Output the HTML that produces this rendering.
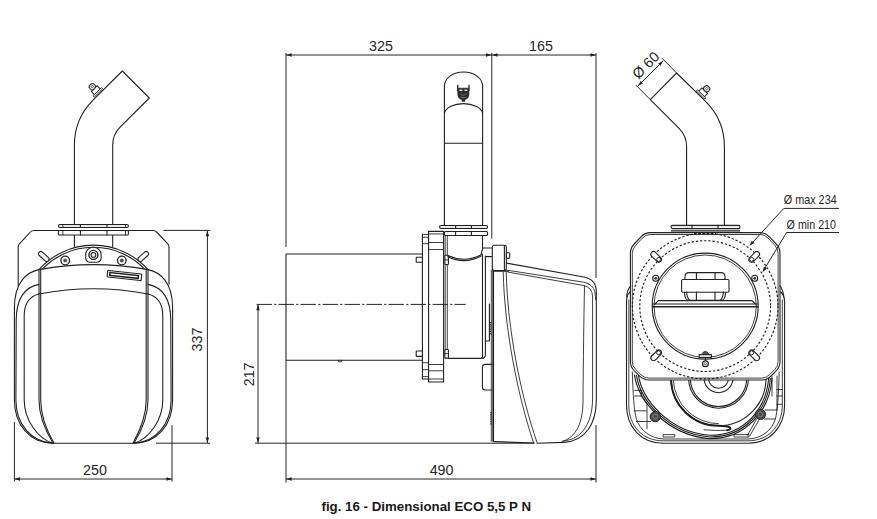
<!DOCTYPE html>
<html>
<head>
<meta charset="utf-8">
<title>fig. 16 - Dimensional ECO 5,5 P N</title>
<style>
  html, body { margin: 0; padding: 0; background: #ffffff; }
  body { width: 877px; height: 519px; overflow: hidden; font-family: "Liberation Sans", sans-serif; }
  svg { display: block; }
  .ln { fill: none; stroke: #222; stroke-width: 1.1; stroke-linecap: round; stroke-linejoin: round; }
  .lt { fill: none; stroke: #1e1e1e; stroke-width: 0.85; stroke-linecap: round; stroke-linejoin: round; }
  .th { fill: none; stroke: #222; stroke-width: 1.5; stroke-linecap: round; stroke-linejoin: round; }
  .wf { fill: #fff; stroke: #222; stroke-width: 1.1; stroke-linejoin: round; }
  .dm { fill: none; stroke: #262626; stroke-width: 1.0; }
  .ds { fill: none; stroke: #222; stroke-width: 1.15; stroke-dasharray: 2.3 1.9; }
  .ar { fill: #222; stroke: none; }
  text { font-family: "Liberation Sans", sans-serif; fill: #262626; }
  .dt { font-size: 14.3px; }
  .cap { font-size: 12.5px; font-weight: bold; fill: #1a1a1a; }
</style>
</head>
<body>
<svg width="877" height="519" viewBox="0 0 877 519">
<rect x="0" y="0" width="877" height="519" fill="#ffffff"/>

<!-- ================= LEFT VIEW ================= -->
<g id="left-view">
  <!-- bracket plate -->
  <path class="ln" d="M18.2,286 V247 Q18.2,245 19.6,243.6 L30.4,232 Q31.8,230.5 34,230.5 H153 Q155.2,230.5 156.6,232 L167.6,243.6 Q169,245 169,247 V284"/>
  <!-- pipe -->
  <path class="wf" d="M74.4,224.5 V145.1 A63.6,63.6 0 0 1 93.03,100.13 L122.3,71 L149.3,98 L120.11,127.21 A25.3,25.3 0 0 0 112.7,145.1 V224.5"/>
  <!-- nipple -->
  <g transform="translate(98.5 92.9) rotate(-45)">
    <rect x="-4" y="-6" width="8" height="4.6" fill="#fff" stroke="#222" stroke-width="1"/>
    <rect x="-5.9" y="-1.6" width="11.8" height="1.6" fill="#fff" stroke="#1c1c1c" stroke-width="0.9"/>
    <rect x="-3" y="-11.6" width="6" height="5.6" rx="2.4" fill="#fff" stroke="#222" stroke-width="1"/>
    <circle cx="0" cy="-8.9" r="1.2" fill="none" stroke="#333" stroke-width="0.7"/>
  </g>
  <!-- pipe below flange -->
  <path class="ln" d="M74.4,235.2 V247 M112.7,235.2 V246.5"/>
  <!-- flanges -->
  <rect class="wf" x="58.4" y="224.5" width="70" height="3" rx="1.5" style="fill:#e9e9e9"/>
  <rect class="wf" x="58.4" y="230.5" width="70" height="4.5" rx="1.1"/>
  <path class="ln" d="M80.4,224.5 V227.5 M107,224.5 V227.5 M80.4,230.5 V235 M107,230.5 V235"/><path class="lt" d="M62.8,224.5 V227.5 M125.5,224.5 V227.5 M62.8,230.5 V235 M125.5,230.5 V235"/>
  <!-- tabs -->
  <!-- round plate arcs -->
  <path class="wf" d="M39,269.6 A73,73 0 0 1 148,269.6 Z"/>
  <path class="ln" d="M41.6,269.9 A70.9,70.9 0 0 1 145.4,269.9"/>
  <g transform="rotate(42 43.75 256.45)"><rect class="wf" x="37.5" y="254.15" width="12.5" height="4.6" rx="2.3"/></g>
  <g transform="rotate(-42 143.25 256.45)"><rect class="wf" x="137" y="254.15" width="12.5" height="4.6" rx="2.3"/></g>
  <!-- bolts -->
  <path class="wf" d="M85.7,254.6 A7.7,7.4 0 0 1 101.1,254.6 V257.4 Q101.1,262.2 96.4,262.2 H90.4 Q85.7,262.2 85.7,257.4 Z"/>
  <circle cx="93.4" cy="254.9" r="4.5" fill="#fff" stroke="#222" stroke-width="1.4"/>
  <circle class="ln" cx="93.4" cy="254.9" r="2.4"/>
  <circle cx="65.2" cy="260.5" r="4.3" fill="#fff" stroke="#222" stroke-width="1.3"/>
  <circle cx="65.2" cy="260.5" r="2" fill="#555"/>
  
  <circle cx="121.8" cy="260.5" r="4.3" fill="#fff" stroke="#222" stroke-width="1.3"/>
  <circle cx="121.8" cy="260.5" r="2" fill="#555"/>
  

  <!-- cover body (white fill to hide things behind) -->
  <path class="wf" d="M39,269.6 Q93.5,259.6 148,269.6 C160,272 172.6,282 172.6,308 V400 C172.6,425 157,443.2 134,443.2 H53 C30,443.2 14.4,425 14.4,400 V308 C14.4,282 27,272 39,269.6 Z"/>
  <!-- second outer lines -->
  <path class="ln" d="M39,284.4 C29,286.4 16.4,294 16.2,320 C15.9,345 15.9,370 15.9,400 C15.9,424 31,442 53,443.2"/>
  <path class="ln" d="M148,284.4 C158,286.4 170.6,294 170.8,320 C171.1,345 171.1,370 171.1,400 C171.1,424 156,442 134,443.2"/>
  <!-- inner frame -->
  <path class="ln" d="M39,294 C31,296 24.2,302 24.2,316 V400 C24.2,420 38,439 53,443.2"/>
  <path class="ln" d="M148,294 C156,296 162.8,302 162.8,316 V400 C162.8,420 149,439 134,443.2"/>
  <!-- panel -->
  <path class="ln" d="M39,269.6 V400 C39,415 45,430 53,443.2"/>
  <path class="ln" d="M40.7,270 V400 C40.7,415 46.4,430 54,443.2"/>
  <path class="ln" d="M148,269.6 V400 C148,415 142,430 134,443.2"/>
  <path class="ln" d="M146.2,270 V400 C146.2,415 140.4,430 133,443.2"/>
  <!-- arch -->
  <path class="ln" d="M39,294 Q93.5,283.6 148,294"/>
  <!-- label slot -->
  <g transform="rotate(6.2 107.8 270.4)">
    <rect class="wf" x="107.8" y="270.4" width="34.2" height="6.6" rx="0.8"/>
    <rect x="110.2" y="272.3" width="28.6" height="2.8" style="fill:#fff;stroke:#1c1c1c;stroke-width:1.5"/>
  </g>
</g>

<!-- left view dimensions -->
<g id="left-dims">
  <path class="dm" d="M14.4,422 V481.5 M172,425 V481.5 M14.4,479 H172"/>
  <path class="ar" d="M14.4,479 l5.6,-1.7 v3.4 Z M172,479 l-5.6,-1.7 v3.4 Z"/>
  <text class="dt" x="95" y="474.6" text-anchor="middle">250</text>

  <path class="dm" d="M163.4,230.4 H210.4 M156,443.2 H210 M207.4,230.4 V443"/>
  <path class="ar" d="M207.4,230.6 l-1.7,5.6 h3.4 Z M207.4,443 l-1.7,-5.6 h3.4 Z"/>
  <text class="dt" transform="translate(201.6 339.6) rotate(-90)" text-anchor="middle">337</text>
</g>

<!-- ================= SIDE VIEW ================= -->
<g id="side-view">
  <!-- tube -->
  <path class="ln" d="M422.4,254 H286 V360.2 H422.4"/>
  <path class="lt" d="M338.6,360.2 V361.8 H341.4 V360.2"/>
  <!-- pipe -->
  <path class="wf" d="M444.4,225 V86 A19.1,14 0 0 1 482.6,86 V225"/>
  <path class="ln" d="M444.4,113 A19.3,11 0 0 1 482.6,113"/>
  <path class="ln" d="M444.4,143.2 H482.6"/>
  <!-- nipple (front) -->
  <g>
    <path d="M457.7,84.8 V91 M469,84.8 V91" stroke="#222" stroke-width="1.3" fill="none"/>
    <path d="M457.7,88.3 H469" stroke="#222" stroke-width="1" fill="none"/>
    <path d="M457.4,88.6 H469.3 V94.6 A5.95,5.4 0 0 1 457.4,94.6 Z" fill="#2e2e2e"/>
    <rect x="459.4" y="89.6" width="2.9" height="1.3" fill="#e8e8e8"/>
    <rect x="464.4" y="89.6" width="2.9" height="1.3" fill="#e8e8e8"/>
    <path d="M460.4,94.2 Q463.3,96.6 466.3,94.2" stroke="#777" stroke-width="0.8" fill="none"/>
    <path d="M461,97.6 H465.8" stroke="#888" stroke-width="0.7" fill="none"/>
    <rect x="461.6" y="99.2" width="3.6" height="2.6" rx="0.8" fill="#2a2a2a"/>
  </g>
  <!-- flanges on pipe -->
  <rect class="wf" x="439.6" y="225.5" width="48" height="3" rx="1.5" style="fill:#e9e9e9"/>
  <rect class="wf" x="444.4" y="231.5" width="43.2" height="4" rx="1.1"/>
  <path class="ln" d="M455.6,225.5 V228.5 M471.4,225.5 V228.5 M455.6,231.5 V235.5 M471.4,231.5 V235.5"/>

  <!-- flange plate -->
  <path class="ln" d="M422.4,234.4 V379 H428.6 M428.6,231.4 V382 H443.6 V231.4 H428.6"/>
  <path class="lt" d="M422.4,234.4 H428.6 M422.4,237.3 H428.6 M422.4,243.7 H428.6 M428.6,233.9 H443.6 M428.6,242.5 H443.6 M428.6,249.5 H443.6"/>
  <path class="lt" d="M422.4,362.7 H428.6 M422.4,369.7 H428.6 M422.4,376.6 H428.6 M428.6,364.5 H443.6 M428.6,370.8 H443.6 M428.6,379 H443.6"/>
  <path class="lt" d="M445.2,235.4 V358.4 M447.3,235.4 V349"/>
  <!-- plate bolts -->
  <rect class="wf" x="416.2" y="257.2" width="6.2" height="5" rx="0.5"/>
  <rect class="wf" x="416.2" y="351" width="6.2" height="5.4" rx="0.5"/>
  <rect class="wf" x="444.9" y="255.3" width="3.5" height="9.2" rx="0.6"/><path class="lt" d="M444.9,259.9 H448.4"/>
  <rect class="wf" x="444.9" y="349.5" width="3.5" height="8.6" rx="0.6"/><path class="lt" d="M444.9,353.6 H448.4"/>
  <!-- saddle arc -->
  <path class="ln" d="M447.8,255.6 Q464.6,263.4 481.2,254.8"/>
  <path class="ln" d="M447.8,256.8 Q464.6,264.8 481.2,256"/>
  <!-- body -->
  <path class="ln" d="M482.5,235.4 V248 M482.5,254 V356 Q482.5,358.4 480,358.4 H448"/>
  <path class="ln" d="M485.4,256 V354 Q485.4,358.4 482,358.4"/>
  <path class="ln" d="M485.4,341 H489.4 V304"/>
  <!-- hinge bracket -->
  <path class="ln" d="M481,254.6 L482.8,248 H491.6 M485.6,256.6 H491.6"/>
  <!-- back plate -->
  <path class="lt" d="M491.3,270 V441.4"/><path d="M491,412 V425" fill="none" stroke="#333" stroke-width="1.6" stroke-dasharray="1 0.8"/><path d="M490.6,322 V335" fill="none" stroke="#333" stroke-width="1.4" stroke-dasharray="1 0.8"/>
  <path d="M493.2,271 V441.6" fill="none" stroke="#1c1c1c" stroke-width="1.7"/>
  <path class="ln" d="M492,364.4 H485.4 Q482.4,364.4 482.4,367.4 V387 Q482.4,390 485.4,390 H492"/>
  <!-- hinge block -->
  <rect class="wf" x="492.3" y="245.3" width="14" height="25.2" rx="2"/>
  <path class="ln" d="M504.4,246 V270"/>
  <path class="th" d="M493,271.1 H508.4"/>
  <rect class="wf" x="506.4" y="252.8" width="3.3" height="5.6" rx="0.8"/>
  <!-- cover -->
  <path class="ln" d="M506.6,263.1 L583.8,277 Q596.3,279.4 596.3,291.6 V400 C596.3,423 586,441 564,442.4 L537,443.2"/>
  <path class="lt" d="M508,270.3 L583.6,282.2 Q593,284 594.9,292 L595.8,300"/><path class="lt" d="M508,272.1 L583,285.4 Q592.4,287 592.6,297 V398 C592.6,420 584,439.6 563,441"/>
  
  <path class="lt" d="M584.5,285.8 C583.8,320 583.3,360 583,402 C582.6,422 577,437 562,441.6"/>
  <!-- inner contour (double) -->
  <path class="lt" d="M503.2,272 C504.6,330 517.6,395 533.6,443"/>
  <path class="lt" d="M506.2,272 C507.6,330 520.6,395 537,442.4"/>
  <!-- bottom -->
  <path class="ln" d="M493.6,441.6 L534.4,443"/>
</g>

<!-- side view dimensions -->
<g id="side-dims">
  <path class="dm" d="M286,53 V247 M286,360.2 V482.6 M491.8,53 V238.6 M596,53 V278 M596,425 V482.6"/>
  <path class="dm" d="M286,55 H596 M286,479 H596"/>
  <path class="ar" d="M286,55 l5.6,-1.7 v3.4 Z M491.6,55 l-5.6,-1.7 v3.4 Z M492,55 l5.6,-1.7 v3.4 Z M596,55 l-5.6,-1.7 v3.4 Z"/>
  <path class="ar" d="M286,479 l5.6,-1.7 v3.4 Z M596,479 l-5.6,-1.7 v3.4 Z"/>
  <text class="dt" x="381" y="50.6" text-anchor="middle">325</text>
  <text class="dt" x="541" y="50.6" text-anchor="middle">165</text>
  <text class="dt" x="441.6" y="474.6" text-anchor="middle">490</text>

  <path class="dm" d="M255,443.2 H534 M258,304.6 V443"/>
  <path class="dm" d="M256.6,304.4 H465.6" stroke-dasharray="15.4 2.2 2.2 2.2"/>
  <path class="ar" d="M258,304.6 l-1.7,5.6 h3.4 Z M258,443 l-1.7,-5.6 h3.4 Z"/>
  <text class="dt" transform="translate(254 374.4) rotate(-90)" text-anchor="middle">217</text>
</g>

<!-- ================= RIGHT VIEW ================= -->
<g id="right-view">
  <!-- outer cover -->
  <path class="wf" d="M633,290 C628,292 626.5,296 626.5,302 V405 C626.5,427 641,443.2 663,443.2 H748 C770,443.2 784.6,427 784.6,405 V302 C784.6,296 782,292 777.6,290"/>
  <path class="lt" d="M628.8,300 V405 C628.8,426 642.5,440.8 663,440.8 H748 C768.5,440.8 782.3,426 782.3,405 V300"/>
  <path class="lt" d="M632.3,372 C633,395 634,410 636.4,419 C640,430 650,438.6 664,439 H748 C762,438.6 772,430 775.4,419 C777.6,410 778.6,395 779.2,372"/>

  <!-- pipe -->
  <path class="wf" d="M686.6,225 V146.7 A25.8,25.8 0 0 0 679.04,128.46 L650.3,99.6 L676.6,73 L705.8,101.7 A63.6,63.6 0 0 1 724.4,146.7 V225"/>
  <!-- nipple -->
  <g transform="translate(700.5 95) rotate(45)">
    <rect x="-4" y="-6" width="8" height="4.6" fill="#fff" stroke="#222" stroke-width="1"/>
    <rect x="-5.9" y="-1.6" width="11.8" height="1.6" fill="#fff" stroke="#1c1c1c" stroke-width="0.9"/>
    <rect x="-3" y="-11.6" width="6" height="5.6" rx="2.4" fill="#fff" stroke="#222" stroke-width="1"/>
    <circle cx="0" cy="-8.9" r="1.2" fill="none" stroke="#333" stroke-width="0.7"/>
  </g>

  <!-- fan volute (below plate) -->
  <g>
    <circle class="ln" cx="718.5" cy="378.3" r="10"/>
    <circle class="ln" cx="718.5" cy="378.3" r="14.4"/>
    <circle class="ln" cx="718.5" cy="378.3" r="28.2"/>
    <circle class="ln" cx="718.5" cy="378.3" r="29.9"/>
    <circle class="ln" cx="718.5" cy="378.3" r="47.5"/>
    <path d="M671.1,380.8 A47.5,47.5 0 0 0 718.5,425.8 Q727,425.8 730.2,427.6 Q731.4,429.8 727,430.2" fill="none" stroke="#1e1e1e" stroke-width="1.9" stroke-linecap="round"/>
    <path class="lt" d="M673.4,380.8 A45.4,45.4 0 0 0 718.5,423.7"/>
    <path class="lt" d="M727,430.2 Q716,431 704,429.8"/>
    <path d="M638.4,374.9 C641.9,399.4 669.1,432.4 709.9,435.3 C744.0,435.3 766.3,409.1 768.7,378.0" fill="none" stroke="#1c1c1c" stroke-width="1.1"/>
    <path d="M636.4,374.8 C640.0,400.0 668.0,434.0 710.0,437.0 C745.0,437.0 768.0,410.0 770.4,378.0" fill="none" stroke="#1c1c1c" stroke-width="1.1"/>
    <path d="M634.4,374.7 C638.1,400.6 666.9,435.6 710.1,438.7 C746.0,438.7 769.7,410.9 772.1,378.0" fill="none" stroke="#1c1c1c" stroke-width="1.1"/>
    <path class="lt" d="M634.7,390.4 H641.3 V396 H634.7 M634,410.8 H646.4 M636.4,421.5 H651 M647,404.3 V428.8 M641.3,396 L647,404.3"/>
    <path class="lt" d="M772,376 V396 M777,376 V410 M777,389.5 H782 M777,396 H782 M777,404.3 H782 M765,410 H777 M764,419 H775"/>
    <path class="lt" d="M756.5,419 L747.5,435.4 M759,420 L750,435.4"/>
    <path class="lt" d="M663.4,434.6 H674.8 V437 H663.4 Z M734.4,434.6 H749 V437 H734.4 Z"/>
    <circle cx="655.3" cy="416.6" r="5.2" fill="#4a4a4a" stroke="#222" stroke-width="0.9"/>
    <circle cx="655.3" cy="416.6" r="2.4" fill="none" stroke="#999" stroke-width="0.7"/>
    <circle cx="760.4" cy="414.4" r="5.2" fill="#4a4a4a" stroke="#222" stroke-width="0.9"/>
    <circle cx="760.4" cy="414.4" r="2.4" fill="none" stroke="#999" stroke-width="0.7"/>
  </g>

  <!-- housing plate -->
  <path class="wf" d="M641.2,236.6 Q645.0,232.6 650.5,232.6 L759.9,232.6 Q765.4,232.6 769.2,236.6 L776.2,244.0 Q780.0,248.0 780.0,253.5 L780.0,361.5 Q780.0,367.0 776.1,370.9 L770.9,376.1 Q767.0,380.0 761.5,380.0 L649.1,380.0 Q643.6,380.0 639.7,376.1 L634.3,370.9 Q630.4,367.0 630.4,361.5 L630.4,253.5 Q630.4,248.0 634.2,244.0 Z"/>
  <path class="lt" d="M642.6,237.8 Q645.8,234.5 650.4,234.5 L760.0,234.5 Q764.6,234.5 767.8,237.8 L774.9,245.5 Q778.1,248.8 778.1,253.4 L778.1,361.6 Q778.1,366.2 774.8,369.5 L769.5,374.8 Q766.2,378.1 761.6,378.1 L649.0,378.1 Q644.4,378.1 641.1,374.9 L635.6,369.4 Q632.3,366.2 632.3,361.6 L632.3,253.4 Q632.3,248.8 635.5,245.5 Z"/>
  <!-- flange -->
  <rect class="wf" x="671" y="225.4" width="69" height="3.2" rx="1.5" style="fill:#ececec"/>
  <path class="ln" d="M692,225.4 V228.6 M718,225.4 V228.6"/>
  <path d="M671,230.9 H740" fill="none" stroke="#1c1c1c" stroke-width="1.3"/>
  <path class="ds" d="M694,233.6 H716" style="stroke-width:1.4"/>

  <!-- dashed circles -->
  <circle class="ds" cx="705.2" cy="306.1" r="72.8"/>
  <circle class="ds" cx="705.2" cy="306.1" r="65.4"/>
  <!-- opening -->
  <circle class="wf" cx="705.2" cy="306.1" r="53"/>
  <circle class="lt" cx="705.2" cy="306.2" r="51.2"/>
  <!-- motor -->
  <path class="wf" d="M685,279 V276.6 Q685,272.6 689,272.6 H721 Q725,272.6 725,276.6 V279"/>
  <path class="wf" d="M684.4,292 C684.6,296 686,300 688,300.4 H722 C724,300 725.4,296 725.6,292"/>
  <rect class="wf" x="681.6" y="279.5" width="47.4" height="12.7" rx="1.2"/>
  <path class="ln" d="M696.4,272.6 V279 M715,272.6 V279 M696.4,292 V300.4 M715,292 V300.4 M686.6,292 C686.8,296 688,299 690,300.4 M723.4,292 C723.2,296 722,299 720,300.4"/>
  <!-- bar -->
  <path class="ln" d="M658.4,300.6 H752 M655,304 L658.4,300.6 M755.4,304 L752,300.6"/>
  <path class="th" d="M652.6,306.8 H757.8"/>
  <path class="ln" d="M652.6,304 H757.8"/>
  <!-- slots -->
  <g transform="rotate(-45 656.2 256.9)"><rect class="wf" x="653.5" y="250.5" width="5.4" height="12.8" rx="2.7"/><circle class="lt" cx="656.2" cy="260.4" r="2"/></g>
  <g transform="rotate(45 754.2 256.9)"><rect class="wf" x="751.5" y="250.5" width="5.4" height="12.8" rx="2.7"/><circle class="lt" cx="754.2" cy="260.4" r="2"/></g>
  <g transform="rotate(45 656.2 355.3)"><rect class="wf" x="653.5" y="348.9" width="5.4" height="12.8" rx="2.7"/><circle class="lt" cx="656.2" cy="351.8" r="2"/></g>
  <g transform="rotate(-45 754.2 355.3)"><rect class="wf" x="751.5" y="348.9" width="5.4" height="12.8" rx="2.7"/><circle class="lt" cx="754.2" cy="351.8" r="2"/></g>
  <!-- small screws -->
  <circle class="wf" cx="655.7" cy="278.3" r="3"/><circle cx="655.7" cy="278.3" r="1.4" fill="#333"/>
  <circle class="wf" cx="754.7" cy="278.3" r="3"/><circle cx="754.7" cy="278.3" r="1.4" fill="#333"/>
  
  <!-- latch -->
  <path d="M701.4,354.8 Q705.3,347.8 709.2,354.8 Z" fill="#555" stroke="#222" stroke-width="0.8"/>
  <rect x="699.2" y="354.7" width="12.2" height="2.7" fill="#fff" stroke="#1c1c1c" stroke-width="1.1"/>
  <path class="lt" d="M705.4,358 V360.6"/>
  <circle cx="705.4" cy="363.7" r="2.9" fill="#fff" stroke="#1c1c1c" stroke-width="1.2"/>
  <circle cx="705.4" cy="363.7" r="1.1" fill="none" stroke="#333" stroke-width="0.7"/>

  <!-- side cover edges beside plate -->
  <path class="ln" d="M630.4,286 C628,289 627,292 626.6,297 M780,286 C782.4,289 783.4,292 783.8,297"/>
</g>

<!-- right view dims -->
<g id="right-dims">
  <path class="dm" d="M676.6,73 L662,58.2 M650.3,99.6 L636,85.2"/>
  <path class="dm" d="M637.9,86.1 L663.3,60.7"/>
  <path class="ar" d="M637.9,86.1 l2.76,-5.16 l2.4,2.4 Z M663.3,60.7 l-2.76,5.16 l-2.4,-2.4 Z"/>
  <text class="dt" transform="translate(649.3 68.7) rotate(-45)" text-anchor="middle" style="font-size:14.4px">Ø 60</text>

  <path class="dm" d="M839,208.4 H783.8 L750.6,244.6"/>
  <path class="ar" d="M749.4,246 l2.4,-5.3 l2.5,2.3 Z"/>
  <path class="dm" d="M839,232.5 H786.6 L763.2,271"/>
  <path class="ar" d="M762.4,272.4 l1.5,-5.6 l2.9,1.76 Z"/>
  <text class="dt" x="783.7" y="204" textLength="53" lengthAdjust="spacingAndGlyphs" style="font-size:13.4px">Ø max 234</text>
  <text class="dt" x="786.6" y="228.9" textLength="49.4" lengthAdjust="spacingAndGlyphs" style="font-size:13.4px">Ø min 210</text>
</g>

<!-- caption -->
<text class="cap" x="321.5" y="510.6" textLength="209.5" lengthAdjust="spacingAndGlyphs">fig. 16 - Dimensional ECO 5,5 P N</text>

</svg>
</body>
</html>
